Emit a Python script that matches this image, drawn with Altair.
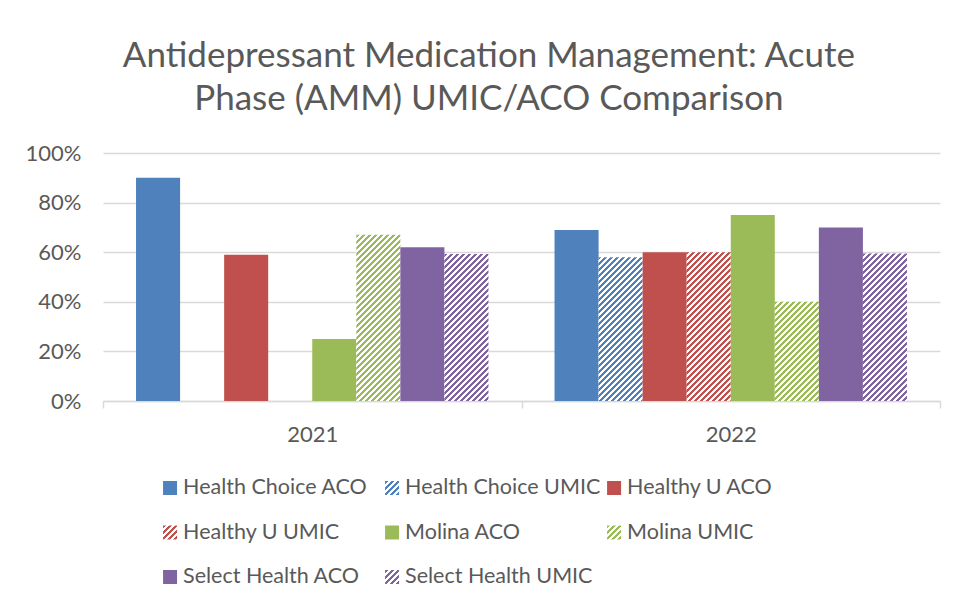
import math
import altair as alt
import pandas as pd

# ---- data ----
years = ["2021", "2022"]
series = ["Health Choice ACO", "Health Choice UMIC", "Healthy U ACO", "Healthy U UMIC",
          "Molina ACO", "Molina UMIC", "Select Health ACO", "Select Health UMIC"]
values_2021 = [0.90, None, 0.59, None, 0.25, 0.67, 0.62, 0.593]
values_2022 = [0.69, 0.58, 0.60, 0.60, 0.75, 0.40, 0.70, 0.595]
colors = ["#4F81BD", "#4F81BD", "#C0504D", "#C0504D",
          "#9BBB59", "#9BBB59", "#8064A2", "#8064A2"]
hatched = [False, True, False, True, False, True, False, True]
legend_col = [0, 1, 2, 0, 1, 2, 0, 1]
legend_row = [0, 0, 0, 1, 1, 1, 2, 2]

TEXT = "#595959"
GRID = "#D9D9D9"
FONT = "Lato"

PLOT_W = 837
PLOT_H = 248
PAD_OUTER = 0.75
BAR_W = (PLOT_W / len(years)) / (len(series) + 2 * PAD_OUTER)
PERIOD = 6.0


def stripe_gradient(color, w, h, period=PERIOD):
    """Diagonal '/' stripes at 45 deg for a w x h box (objectBoundingBox gradient)."""
    length = w + h
    stops = []
    k = 0
    while k * period < length:
        a = round(min(1.0, k * period / length), 5)
        b = round(min(1.0, (k * period + period / 2) / length), 5)
        c = round(min(1.0, (k + 1) * period / length), 5)
        stops += [{"offset": a, "color": color}, {"offset": b, "color": color},
                  {"offset": b, "color": "#ffffff"}, {"offset": c, "color": "#ffffff"}]
        k += 1
    d = w * w + h * h
    return {"gradient": "linear", "x1": 0, "y1": 0,
            "x2": round(w * length / d, 6), "y2": round(h * length / d, 6), "stops": stops}


rows = []
for yr, vals in zip(years, [values_2021, values_2022]):
    for s, v, c, hz in zip(series, vals, colors, hatched):
        rows.append({"year": yr, "series": s, "value": v, "color": c, "hatched": hz})
df = pd.DataFrame(rows)

conditions = []
for r in rows:
    if r["hatched"] and r["value"] is not None:
        g = stripe_gradient(r["color"], BAR_W, r["value"] * PLOT_H)
        conditions.append({"test": f"datum.series === '{r['series']}' && datum.year === '{r['year']}'",
                           "value": g})

bars = alt.Chart(df).mark_bar(strokeWidth=0).encode(
    x=alt.X("year:N", sort=years, title=None,
            scale=alt.Scale(paddingInner=0, paddingOuter=0),
            axis=alt.Axis(labelAngle=0, labelFontSize=22, labelColor=TEXT, labelFont=FONT,
                          labelPadding=16, domainColor=GRID, domainWidth=1.5,
                          ticks=True, tickColor=GRID, tickWidth=1.5, tickSize=7,
                          tickBand="extent", grid=False)),
    xOffset=alt.XOffset("series:N", sort=series,
                        scale=alt.Scale(domain=series, paddingInner=0, paddingOuter=PAD_OUTER)),
    y=alt.Y("value:Q", title=None,
            scale=alt.Scale(domain=[0, 1], nice=False),
            axis=alt.Axis(values=[0, 0.2, 0.4, 0.6, 0.8, 1.0], format=".0%",
                          labelFontSize=22, labelColor=TEXT, labelFont=FONT, labelPadding=22,
                          domain=False, ticks=False, gridColor=GRID, gridWidth=1.5)),
    fill={"field": "color", "type": "nominal", "scale": None, "condition": conditions},
).properties(width=PLOT_W, height=PLOT_H)

# ---- manual legend (hatched symbols need gradient fills) ----
leg_df = pd.DataFrame({"series": series, "color": colors, "hatched": hatched,
                       "col": legend_col, "row": legend_row})
SYM = 14
leg_conditions = []
for s, c, hz in zip(series, colors, hatched):
    if hz:
        leg_conditions.append({"test": f"datum.series === '{s}'",
                               "value": stripe_gradient(c, SYM, SYM)})

lx = alt.X("col:Q", scale=alt.Scale(domain=[-0.302, 3.468]), axis=None)
ly = alt.Y("row:Q", scale=alt.Scale(domain=[0, 2], reverse=True), axis=None)

leg_sym = alt.Chart(leg_df).mark_square(size=SYM * SYM, opacity=1, strokeWidth=0).encode(
    x=lx, y=ly,
    fill={"field": "color", "type": "nominal", "scale": None, "condition": leg_conditions},
)
leg_txt = alt.Chart(leg_df).mark_text(align="left", baseline="middle", dx=13,
                                      fontSize=21.5, font=FONT, color=TEXT).encode(
    x=lx, y=ly, text="series:N")
legend = alt.layer(leg_sym, leg_txt).properties(width=PLOT_W, height=89)

chart = alt.vconcat(bars, legend, spacing=32).properties(
    title=alt.TitleParams(
        ["Antidepressant Medication Management: Acute", "Phase (AMM) UMIC/ACO Comparison"],
        anchor="middle", frame="bounds", fontSize=35, font=FONT, fontWeight="normal",
        color=TEXT, lineHeight=43, offset=25, dx=6),
    padding={"left": 17, "top": 31, "right": 5, "bottom": 5},
    background="white",
).configure_view(stroke=None, strokeWidth=0)

chart.save("out.html", embed_options={"renderer": "svg", "actions": False})
